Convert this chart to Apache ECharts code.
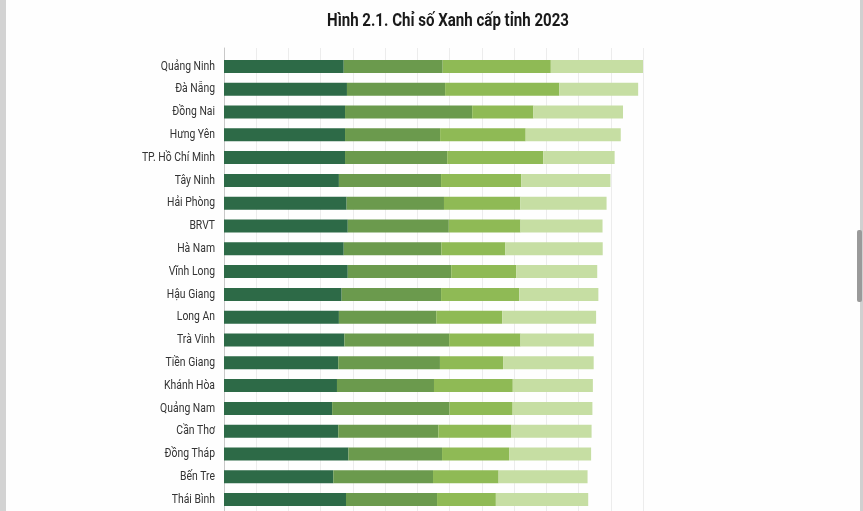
<!DOCTYPE html>
<html><head><meta charset="utf-8">
<script src="https://cdn.jsdelivr.net/npm/echarts@6/dist/echarts.min.js"></script>
<style>html,body{margin:0;padding:0;background:#fefefe;overflow:hidden;}#c{width:863px;height:511px;}</style>
</head><body><div id="c"></div>
<script>
const titleText = 'Hình 2.1. Chỉ số Xanh cấp tỉnh 2023';
const provinces = ['Quảng Ninh','Đà Nẵng','Đồng Nai','Hưng Yên','TP. Hồ Chí Minh','Tây Ninh','Hải Phòng','BRVT','Hà Nam','Vĩnh Long','Hậu Giang','Long An','Trà Vinh','Tiền Giang','Khánh Hòa','Quảng Nam','Cần Thơ','Đồng Tháp','Bến Tre','Thái Bình'];
const seriesNames = ['Chỉ số thành phần 1','Chỉ số thành phần 2','Chỉ số thành phần 3','Chỉ số thành phần 4'];
const s1 = [7.43,7.63,7.51,7.51,7.51,7.13,7.61,7.68,7.43,7.68,7.30,7.13,7.47,7.09,7.01,6.71,7.09,7.72,6.78,7.57];
const s2 = [6.14,6.09,7.89,5.90,6.34,6.34,6.04,6.27,6.06,6.42,6.17,6.04,6.50,6.31,6.02,7.28,6.21,5.81,6.19,5.65];
const s3 = [6.71,7.09,3.80,5.31,5.96,4.97,4.74,4.45,3.97,4.03,4.85,4.09,4.43,3.92,4.89,3.92,4.51,4.16,4.07,3.65];
const s4 = [5.73,4.89,5.56,5.90,4.43,5.54,5.35,5.09,6.04,5.03,4.91,5.83,4.55,5.62,4.97,4.95,5.00,5.09,5.52,5.73];
const axisMin = 0, axisMax = 26, axisStep = 2;

const colors = ['#2d6a47','#6b9a4d','#8fba55','#c6dea3'];
const chart = echarts.init(document.getElementById('c'), null, {renderer:'canvas'});
const allData = [s1,s2,s3,s4];
chart.setOption({
  animation:false,
  backgroundColor:'#fefefe',
  grid:[
    {left:224, right:220, top:55, height:456.6, containLabel:false},
    {left:224, right:220, top:48, bottom:-2, containLabel:false}
  ],
  xAxis:[
    {gridIndex:0, type:'value', min:axisMin, max:axisMax, interval:axisStep,
     axisLabel:{show:false}, axisLine:{show:false}, axisTick:{show:false}, splitLine:{show:false}},
    {gridIndex:1, type:'value', min:axisMin, max:axisMax, interval:axisStep,
     axisLabel:{show:false}, axisLine:{show:false}, axisTick:{show:false},
     splitLine:{show:true, lineStyle:{color:'#ececec', width:1}}}
  ],
  yAxis:[
    {gridIndex:0, type:'category', data:provinces, inverse:true,
     axisLine:{show:false}, axisTick:{show:false}, axisLabel:{show:false}},
    {gridIndex:1, type:'value', min:0, max:1,
     axisLabel:{show:false}, axisTick:{show:false}, splitLine:{show:false},
     axisLine:{show:true, lineStyle:{color:'#c8c8c8', width:1}}}
  ],
  series: allData.map((d,i)=>({
    name:seriesNames[i], type:'bar', stack:'total', xAxisIndex:0, yAxisIndex:0,
    data:d, barWidth:'57%', itemStyle:{color:colors[i]}, z:3
  }))
});

// condensed-looking text via horizontal scaling
const mctx = document.createElement('canvas').getContext('2d');
const titleFont = 'bold 19px Roboto';
mctx.font = titleFont;
const titleScale = 242 / mctx.measureText(titleText).width;
const labelX = chart.convertToPixel({xAxisIndex:0}, axisMin) - 9;
const graphics = [
  {type:'rect', shape:{x:0,y:0,width:6,height:511}, style:{fill:'#d3d3d3'}, silent:true},
  {type:'rect', shape:{x:860,y:0,width:3,height:511}, style:{fill:'#d0d0d0'}, silent:true},
  {type:'rect', shape:{x:857,y:230,width:5,height:72,r:2}, style:{fill:'#9a9a9a'}, silent:true},
  {type:'text', x:448, y:21, scaleX:titleScale, silent:true,
   style:{x:0, y:0, text:titleText, font:titleFont, fill:'#1a1a1a', align:'center', verticalAlign:'middle'}}
];
provinces.forEach(p=>{
  const cy = chart.convertToPixel({yAxisIndex:0}, p);
  graphics.push({type:'text', x:labelX, y:cy, scaleX:0.8, silent:true,
    style:{x:0, y:0, text:p, font:'13px Roboto', fill:'#333333', align:'right', verticalAlign:'middle'}});
});
chart.setOption({graphic:graphics});
</script></body></html>
